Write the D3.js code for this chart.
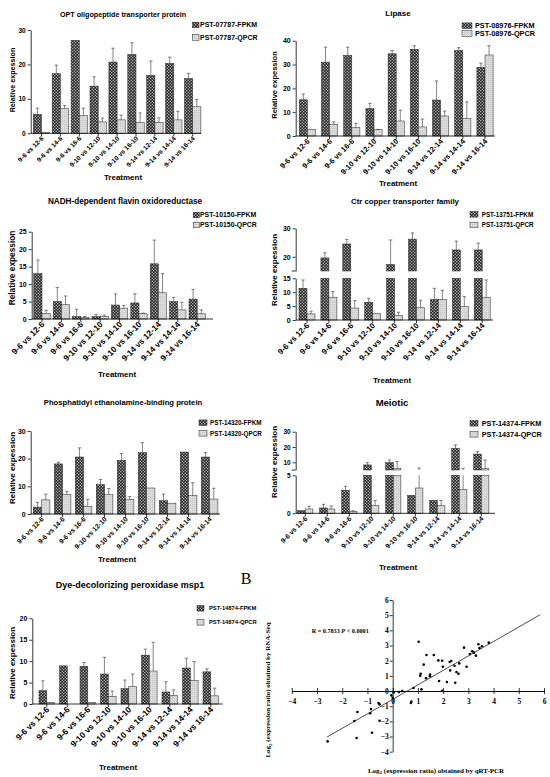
<!DOCTYPE html>
<html>
<head>
<meta charset="utf-8">
<script src="https://cdn.jsdelivr.net/npm/d3@7"></script>
<style>
  body { margin: 0; background: #fff; }
  svg { display: block; }
</style>
</head>
<body>
<script>
// treatment comparisons (same for every gene)
const categories = ["9-6 vs 12-6", "9-6 vs 14-6", "9-6 vs 16-6", "9-10 vs 12-10", "9-10 vs 14-10",
  "9-10 vs 16-10", "9-14 vs 12-14", "9-14 vs 14-14", "9-14 vs 16-14"];

// bar heights and upper ends of the error bars
const optFpkm = [5.5, 17.3, 27.0, 13.7, 20.7, 22.9, 16.8, 20.3, 15.9];
const optFpkmErr = [7.3, 19.8, 27.0, 16.4, 24.7, 26.3, 21.0, 22.1, 17.4];
const optQpcr = [0.2, 7.2, 5.2, 3.3, 3.9, 3.2, 3.2, 3.9, 7.7];
const optQpcrErr = [0.2, 8.1, 7.3, 4.4, 5.3, 5.9, 4.5, 6.4, 9.8];

const lipFpkm = [15.2, 31.0, 33.8, 11.5, 34.5, 36.4, 15.1, 35.9, 28.8];
const lipFpkmErr = [17.6, 37.3, 37.3, 13.7, 35.9, 37.9, 23.1, 37.1, 30.6];
const lipQpcr = [2.8, 4.9, 3.5, 2.7, 6.3, 3.8, 8.4, 7.4, 34.0];
const lipQpcrErr = [2.8, 6.0, 5.3, 2.8, 10.9, 7.1, 10.5, 14.3, 37.9];

const nadhFpkm = [13.0, 5.0, 0.7, 0.7, 4.0, 4.6, 15.8, 5.0, 5.7];
const nadhFpkmErr = [16.9, 9.0, 2.8, 1.3, 7.2, 7.2, 22.6, 6.2, 8.5];
const nadhQpcr = [1.6, 4.1, 0.5, 0.7, 3.1, 1.5, 7.5, 2.6, 1.5];
const nadhQpcrErr = [2.5, 6.6, 0.7, 1.1, 3.9, 1.7, 13.0, 4.8, 2.6];

const ctrFpkm = [11.4, 19.6, 24.5, 6.4, 17.3, 26.2, 7.4, 22.4, 22.4];
const ctrFpkmErr = [14.4, 21.4, 26.1, 7.8, 25.9, 28.4, 11.4, 25.5, 24.8];
const ctrQpcr = [2.2, 8.2, 4.3, 2.4, 1.6, 4.4, 7.4, 4.9, 8.2];
const ctrQpcrErr = [3.2, 10.2, 7.0, 2.4, 2.8, 7.1, 10.7, 8.4, 14.4];

const pebpFpkm = [2.5, 18.1, 20.6, 10.6, 19.4, 22.2, 4.8, 22.4, 20.6];
const pebpFpkmErr = [4.2, 18.7, 23.9, 12.5, 21.9, 25.8, 7.2, 22.4, 22.2];
const pebpQpcr = [5.1, 7.0, 2.8, 7.0, 5.3, 9.4, 3.9, 6.6, 5.4];
const pebpQpcrErr = [7.2, 8.1, 5.3, 9.2, 6.3, 9.4, 3.9, 11.3, 9.3];

const meiFpkm = [0.35, 0.7, 3.03, 8.3, 9.8, 2.37, 1.71, 19.1, 15.4];
const meiFpkmErr = [0.35, 1.18, 3.55, 9.8, 11.5, 2.37, 1.71, 21.3, 17.0];
const meiQpcr = [0.57, 0.57, 0.26, 1.0, 6.0, 3.33, 1.0, 3.16, 5.8];
const meiQpcrErr = [0.92, 0.96, 0.35, 1.7, 10.5, 6.3, 1.7, 6.1, 11.5];

const dyeFpkm = [3.1, 8.9, 8.8, 7.0, 3.6, 11.4, 2.8, 8.4, 7.5];
const dyeFpkmErr = [5.4, 8.9, 9.7, 10.9, 5.6, 12.8, 5.2, 10.7, 8.2];
const dyeQpcr = [0.4, 0, 0.4, 1.8, 4.1, 7.7, 2.0, 5.5, 1.9];
const dyeQpcrErr = [0.4, 0, 0.4, 3.0, 7.0, 14.4, 3.3, 9.9, 3.7];

// panel B: log2 ratios, qRT-PCR (x) vs RNA-Seq (y)
const scatterPoints = [
  [1.03, 3.25], [1.23, 1.74], [1.34, 2.37], [1.63, 2.37], [1.81, 2.02], [1.96, 2.0], [1.48, 1.08],
  [1.48, 0.97], [1.32, 0.84], [1.11, 1.14], [1.09, 1.01], [1.14, 0.11], [1.84, 0.66], [1.99, 1.6],
  [2.15, 0.59], [2.26, 1.91], [2.32, 1.98], [2.28, 1.36], [2.45, 1.67], [2.53, 1.25], [2.61, 1.14],
  [2.64, 1.82], [2.48, 0.55], [2.93, 1.6], [2.83, 2.86], [3.06, 2.44], [3.15, 2.62], [3.22, 2.53],
  [3.30, 2.33], [3.40, 3.08], [3.44, 2.84], [3.54, 2.95], [3.81, 3.19], [1.96, 0.02], [0.83, 0.2],
  [0.25, -0.07], [0.38, 0.0], [0.0, -0.44], [-0.05, -0.29], [0.04, -0.1], [0.72, -0.79], [0.74, -0.70],
  [-2.58, -3.32], [-1.52, -1.98], [-1.40, -1.38], [-1.43, -3.10], [-0.86, -1.19], [-0.89, -1.47],
  [-0.82, -2.75], [-0.56, -0.79], [-0.52, -0.88], [-0.52, -1.96]
];
const fitLine = [[-2.6, -3.03], [5.85, 5.03]];
const scatterTicks = [-4, -3, -2, -1, 0, 1, 2, 3, 4, 5, 6];

const SANS = "'Liberation Sans', Arial, sans-serif";
const SERIF = "'Liberation Serif', 'Times New Roman', serif";

const svg = d3.select("body").append("svg")
  .attr("width", 550).attr("height", 777)
  .attr("font-family", SANS);
svg.append("rect").attr("width", 550).attr("height", 777).attr("fill", "#fff");

const defs = svg.append("defs");
const chk = defs.append("pattern").attr("id", "chk")
  .attr("patternUnits", "userSpaceOnUse").attr("width", 3).attr("height", 3);
chk.append("rect").attr("width", 3).attr("height", 3).attr("fill", "#1e1e1e");
chk.append("rect").attr("x", 0.2).attr("y", 0.2).attr("width", 1.1).attr("height", 1.1).attr("fill", "#fff");
chk.append("rect").attr("x", 1.7).attr("y", 1.7).attr("width", 1.1).attr("height", 1.1).attr("fill", "#fff");
const dot = defs.append("pattern").attr("id", "dot")
  .attr("patternUnits", "userSpaceOnUse").attr("width", 2).attr("height", 2);
dot.append("rect").attr("width", 2).attr("height", 2).attr("fill", "#dcdcdc");
dot.append("rect").attr("width", 1).attr("height", 1).attr("fill", "#c4c4c4");

function barPanel(p) {
  const g = svg.append("g");
  const series = ["FPKM", "QPCR"];
  const values = { FPKM: p.fpkm, QPCR: p.qpcr };
  const errs = { FPKM: p.fpkmErr, QPCR: p.qpcrErr };
  const fills = { FPKM: "url(#chk)", QPCR: "url(#dot)" };

  const span = 8 * p.pitch + 2 * p.barW;
  const x = d3.scaleBand().domain(categories)
    .range([p.barLeft, p.barLeft + span])
    .paddingInner(1 - 2 * p.barW / p.pitch).paddingOuter(0);
  const xs = d3.scaleBand().domain(series).range([0, x.bandwidth()]);
  const segs = p.segments.map(s => Object.assign({}, s, { y: d3.scaleLinear().domain(s.domain).range(s.range) }));
  const y0 = segs[0].range[0];

  // bars, one piece per axis segment
  segs.forEach(s => {
    const [lo, hi] = s.domain;
    series.forEach(name => {
      const rows = categories.map((c, i) => ({ c, v: values[name][i], e: errs[name][i] }));
      g.append("g").selectAll("rect")
        .data(rows.filter(d => d.v > lo))
        .join("rect")
        .attr("x", d => x(d.c) + xs(name))
        .attr("width", xs.bandwidth())
        .attr("y", d => s.y(Math.min(d.v, hi)))
        .attr("height", d => s.y(lo) - s.y(Math.min(d.v, hi)))
        .attr("fill", fills[name])
        .attr("stroke", "#222").attr("stroke-width", 0.5);

      const eb = rows.filter(d => d.e > d.v && d.e > lo && d.v < hi);
      const ge = g.append("g").attr("stroke", "#333").attr("stroke-width", 0.6);
      ge.selectAll("line.v").data(eb).join("line").attr("class", "v")
        .attr("x1", d => x(d.c) + xs(name) + xs.bandwidth() / 2)
        .attr("x2", d => x(d.c) + xs(name) + xs.bandwidth() / 2)
        .attr("y1", d => s.y(Math.max(d.v, lo)))
        .attr("y2", d => s.y(Math.min(d.e, hi)));
      ge.selectAll("line.c").data(eb.filter(d => d.e <= hi)).join("line").attr("class", "c")
        .attr("x1", d => x(d.c) + xs(name) + xs.bandwidth() / 2 - 1.7)
        .attr("x2", d => x(d.c) + xs(name) + xs.bandwidth() / 2 + 1.7)
        .attr("y1", d => s.y(d.e))
        .attr("y2", d => s.y(d.e));
    });
  });

  // y axis (split into segments on the broken-axis panels)
  segs.forEach((s, k) => {
    const ax = g.append("g")
      .attr("transform", `translate(${p.x0},0)`)
      .call(d3.axisLeft(s.y).tickValues(s.ticks).tickFormat(d3.format("d"))
        .tickSize(3).tickSizeOuter(0).tickPadding(2));
    ax.selectAll("path, line").attr("stroke", "#000").attr("stroke-width", 0.8);
    ax.selectAll("text").attr("font-size", p.ytickSize).attr("font-weight", "bold")
      .attr("font-family", SANS).attr("fill", "#000");
    if (k > 0) {
      g.append("line")
        .attr("x1", p.x0 - 4).attr("x2", p.x0)
        .attr("y1", s.y(s.domain[0])).attr("y2", s.y(s.domain[0]))
        .attr("stroke", "#000").attr("stroke-width", 0.8);
    }
  });

  // x axis
  g.append("line").attr("x1", p.x0).attr("x2", p.x1).attr("y1", y0).attr("y2", y0)
    .attr("stroke", "#000").attr("stroke-width", 0.8);
  g.append("g").selectAll("line").data(categories).join("line")
    .attr("x1", d => x(d) + x.bandwidth() / 2).attr("x2", d => x(d) + x.bandwidth() / 2)
    .attr("y1", y0).attr("y2", y0 + 3)
    .attr("stroke", "#000").attr("stroke-width", 0.8);
  g.append("g").selectAll("text").data(categories).join("text")
    .attr("transform", d => `translate(${x(d) + x.bandwidth() / 2 + 1},${y0 + 4}) rotate(-45)`)
    .attr("text-anchor", "end").attr("dy", "0.35em")
    .attr("font-size", p.xtickSize).attr("font-weight", "bold")
    .text(d => d);

  // titles and labels
  g.append("text").attr("x", p.titleX).attr("y", p.titleY).attr("text-anchor", "middle")
    .attr("font-size", p.titleSize).attr("font-weight", "bold").text(p.title);
  g.append("text").attr("transform", `translate(${p.ylabX},${p.ylabY}) rotate(-90)`)
    .attr("text-anchor", "middle").attr("dy", "0.35em")
    .attr("font-size", p.ylabSize).attr("font-weight", "bold").text("Relative expession");
  g.append("text").attr("x", p.treatX).attr("y", p.treatY).attr("text-anchor", "middle")
    .attr("font-size", 8).attr("font-weight", "bold").text("Treatment");

  // legend
  const leg = g.append("g");
  series.forEach((name, i) => {
    leg.append("rect").attr("x", p.legX).attr("y", p.legY[i] - 2.8)
      .attr("width", p.legW).attr("height", 5.6)
      .attr("fill", fills[name]).attr("stroke", "#222").attr("stroke-width", 0.5);
    leg.append("text").attr("x", p.legTextX).attr("y", p.legY[i]).attr("dy", "0.35em")
      .attr("font-size", p.legSize).attr("font-weight", "bold").text(p.legend[i]);
  });
}

barPanel({
  title: "OPT oligopeptide transporter protein", legend: ["PST-07787-FPKM", "PST-07787-QPCR"],
  fpkm: optFpkm, fpkmErr: optFpkmErr, qpcr: optQpcr, qpcrErr: optQpcrErr,
  x0: 30.7, x1: 201, barLeft: 33.3, pitch: 18.9, barW: 8.2,
  segments: [{ domain: [0, 30], range: [133.3, 30], ticks: [0, 10, 20, 30] }],
  titleX: 123, titleY: 16.5, titleSize: 7.2, ytickSize: 6.5, xtickSize: 6.5,
  ylabX: 12, ylabY: 80, ylabSize: 7.2, treatX: 123, treatY: 180,
  legX: 192.5, legW: 6.5, legTextX: 200, legY: [25, 37.5], legSize: 7
});

barPanel({
  title: "Lipase", legend: ["PST-08976-FPKM", "PST-08976-QPCR"],
  fpkm: lipFpkm, fpkmErr: lipFpkmErr, qpcr: lipQpcr, qpcrErr: lipQpcrErr,
  x0: 295.7, x1: 495, barLeft: 299.3, pitch: 22.2, barW: 8.1,
  segments: [{ domain: [0, 40], range: [136, 40.7], ticks: [0, 10, 20, 30, 40] }],
  titleX: 398, titleY: 15.5, titleSize: 8, ytickSize: 7, xtickSize: 7.5,
  ylabX: 274, ylabY: 85, ylabSize: 7.5, treatX: 398, treatY: 186,
  legX: 462, legW: 10, legTextX: 475, legY: [25.7, 33.5], legSize: 7.3
});

barPanel({
  title: "NADH-dependent flavin oxidoreductase", legend: ["PST-10150-FPKM", "PST-10150-QPCR"],
  fpkm: nadhFpkm, fpkmErr: nadhFpkmErr, qpcr: nadhQpcr, qpcrErr: nadhQpcrErr,
  x0: 31.7, x1: 213, barLeft: 33.8, pitch: 19.4, barW: 8.2,
  segments: [{ domain: [0, 25], range: [319, 231.7], ticks: [0, 5, 10, 15, 20, 25] }],
  titleX: 125, titleY: 204, titleSize: 8.2, ytickSize: 7, xtickSize: 8.3,
  ylabX: 12, ylabY: 268, ylabSize: 8.3, treatX: 117, treatY: 377,
  legX: 193.3, legW: 6, legTextX: 200, legY: [215, 225], legSize: 6.9
});

barPanel({
  title: "Ctr copper transporter family", legend: ["PST-13751-FPKM", "PST-13751-QPCR"],
  fpkm: ctrFpkm, fpkmErr: ctrFpkmErr, qpcr: ctrQpcr, qpcrErr: ctrQpcrErr,
  x0: 295.7, x1: 493, barLeft: 299, pitch: 21.9, barW: 8,
  segments: [
    { domain: [0, 15], range: [320, 278.3], ticks: [0, 5, 10, 15] },
    { domain: [15, 30], range: [271, 228.3], ticks: [20, 30] }
  ],
  titleX: 405, titleY: 204, titleSize: 7.8, ytickSize: 7, xtickSize: 8,
  ylabX: 274, ylabY: 270, ylabSize: 8, treatX: 392, treatY: 383,
  legX: 470, legW: 8, legTextX: 481.7, legY: [214.3, 225], legSize: 6.3
});

barPanel({
  title: "Phosphatidyl ethanolamine-binding protein", legend: ["PST-14320-FPKM", "PST-14320-QPCR"],
  fpkm: pebpFpkm, fpkmErr: pebpFpkmErr, qpcr: pebpQpcr, qpcrErr: pebpQpcrErr,
  x0: 30.7, x1: 220, barLeft: 33.3, pitch: 21, barW: 8.3,
  segments: [{ domain: [0, 30], range: [514, 431], ticks: [0, 10, 20, 30] }],
  titleX: 123, titleY: 405.3, titleSize: 7.7, ytickSize: 7, xtickSize: 6.8,
  ylabX: 12, ylabY: 468, ylabSize: 8, treatX: 117, treatY: 562,
  legX: 199, legW: 8, legTextX: 210, legY: [422.7, 433.3], legSize: 6.3
});

barPanel({
  title: "Meiotic", legend: ["PST-14374-FPKM", "PST-14374-QPCR"],
  fpkm: meiFpkm, fpkmErr: meiFpkmErr, qpcr: meiQpcr, qpcrErr: meiQpcrErr,
  x0: 295.7, x1: 495, barLeft: 297.7, pitch: 22, barW: 7.6,
  segments: [
    { domain: [0, 5], range: [513.3, 475.3], ticks: [0, 5] },
    { domain: [5, 30], range: [470, 431.7], ticks: [10, 20, 30] }
  ],
  titleX: 392, titleY: 406, titleSize: 9.5, ytickSize: 6.5, xtickSize: 6.8,
  ylabX: 274, ylabY: 462, ylabSize: 8, treatX: 398, treatY: 570,
  legX: 470, legW: 8, legTextX: 481.7, legY: [423.3, 434.3], legSize: 7.3
});

barPanel({
  title: "Dye-decolorizing peroxidase msp1", legend: ["PST-14874-FPKM", "PST-14874-QPCR"],
  fpkm: dyeFpkm, fpkmErr: dyeFpkmErr, qpcr: dyeQpcr, qpcrErr: dyeQpcrErr,
  x0: 32.3, x1: 222.7, barLeft: 39, pitch: 20.5, barW: 7.8,
  segments: [{ domain: [0, 20], range: [704, 618.3], ticks: [0, 5, 10, 15, 20] }],
  titleX: 130, titleY: 588.3, titleSize: 9, ytickSize: 7, xtickSize: 8.5,
  ylabX: 12, ylabY: 663, ylabSize: 8, treatX: 118, treatY: 770,
  legX: 197, legW: 7, legTextX: 209, legY: [608.3, 622.3], legSize: 5.8
});

// ---- panel B: correlation scatter ----
const sx = d3.scaleLinear().domain([-4, 6]).range([291.8, 544]);
const sy = d3.scaleLinear().domain([-4, 6]).range([751.7, 600]);
const gb = svg.append("g").attr("font-family", SERIF);

gb.append("g").attr("transform", `translate(0,${sy(0)})`)
  .call(d3.axisBottom(sx).tickValues(scatterTicks).tickSize(3).tickSizeOuter(0).tickPadding(5));
gb.append("g").attr("transform", `translate(0,${sy(0)})`)
  .call(d3.axisTop(sx).tickValues(scatterTicks).tickSize(3).tickSizeOuter(0).tickFormat(""));
gb.append("g").attr("transform", `translate(${sx(0)},0)`)
  .call(d3.axisLeft(sy).tickValues(scatterTicks).tickSize(3).tickSizeOuter(0).tickPadding(1));
gb.selectAll(".domain, .tick line").attr("stroke", "#000").attr("stroke-width", 0.8);
gb.selectAll(".tick text").attr("font-family", SERIF).attr("font-size", 7.5)
  .attr("font-weight", "bold").attr("fill", "#000");

gb.append("path").datum(fitLine)
  .attr("d", d3.line().x(d => sx(d[0])).y(d => sy(d[1])))
  .attr("stroke", "#222").attr("stroke-width", 0.8).attr("fill", "none");

gb.append("g").selectAll("circle").data(scatterPoints).join("circle")
  .attr("cx", d => sx(d[0])).attr("cy", d => sy(d[1])).attr("r", 1.3).attr("fill", "#000");

const rt = gb.append("text").attr("x", 311.7).attr("y", 633)
  .attr("font-size", 6.2).attr("font-weight", "bold");
rt.append("tspan").text("R = 0.7833  ");
rt.append("tspan").attr("font-style", "italic").text("P");
rt.append("tspan").text(" < 0.0001");

const yl = gb.append("text").attr("transform", "translate(268,690) rotate(-90)")
  .attr("text-anchor", "middle").attr("dy", "0.35em")
  .attr("font-size", 7).attr("font-weight", "bold");
yl.append("tspan").text("Log");
yl.append("tspan").attr("font-size", 5).attr("dy", "0.25em").text("2");
yl.append("tspan").attr("dy", "-0.18em").text(" (expression ratio) obtained by RNA-Seq");

const xl = gb.append("text").attr("x", 436).attr("y", 773)
  .attr("text-anchor", "middle").attr("font-size", 7).attr("font-weight", "bold");
xl.append("tspan").text("Log");
xl.append("tspan").attr("font-size", 5).attr("dy", "0.25em").text("2");
xl.append("tspan").attr("dy", "-0.18em").text(" (expression ratio) obtained by qRT-PCR");

gb.append("text").attr("x", 246).attr("y", 584).attr("text-anchor", "middle")
  .attr("font-size", 16).text("B");
</script>
</body>
</html>
